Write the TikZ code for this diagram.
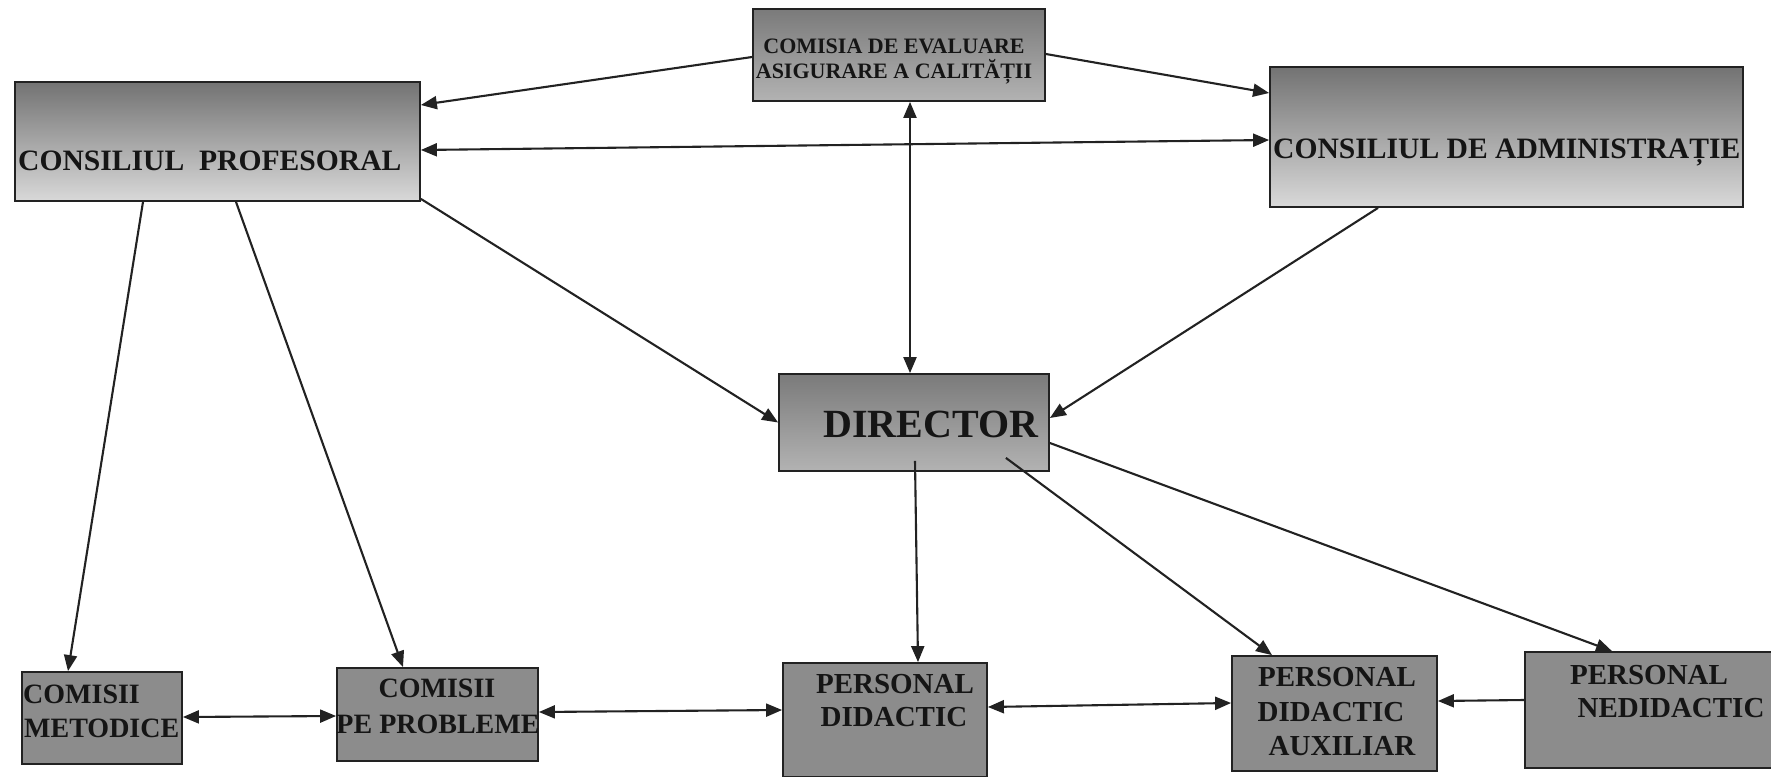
\documentclass[tikz,border=0pt]{standalone}
\usepackage{fontspec}
\setmainfont{Liberation Serif}
\usetikzlibrary{arrows.meta}
\definecolor{txt}{HTML}{151515}
\definecolor{edge}{HTML}{222222}
\definecolor{lowfill}{HTML}{8C8C8C}
\begin{document}
\begin{tikzpicture}[x=1pt,y=-1pt,
  box/.style={draw=edge, line width=1.8pt, rectangle, inner sep=0pt},
  bigbox/.style={box, top color=black!55, bottom color=black!15},
  midbox/.style={box, top color=black!52, bottom color=black!30},
  lowbox/.style={box, fill=lowfill},
  lbl/.style={text=txt, inner sep=0pt, font=\bfseries\fontsize{29}{34}\selectfont},
  toplbl/.style={lbl, font=\bfseries\fontsize{29.6}{34}\selectfont},
  smalllbl/.style={lbl, font=\bfseries\fontsize{22}{25}\selectfont},
  conn/.style={line width=2.1pt, draw=edge, -{Triangle[length=16pt,width=13pt]}},
  conn2/.style={line width=2.1pt, draw=edge, {Triangle[length=16pt,width=13pt]}-{Triangle[length=16pt,width=13pt]}},
]
\useasboundingbox (0,0) rectangle (1771,776);
\fill[white] (0,0) rectangle (1771,776);

% boxes
\node[midbox, minimum width=292pt, minimum height=92pt] (com) at (899,55) {};
\node[bigbox, minimum width=405pt, minimum height=119pt] (cp) at (217.5,141.5) {};
\node[bigbox, minimum width=473pt, minimum height=140pt] (ca) at (1506.5,137) {};
\node[midbox, minimum width=270pt, minimum height=97pt] (dir) at (914,422.5) {};
\node[lowbox, minimum width=160pt, minimum height=92pt] (cm) at (102,718) {};
\node[lowbox, minimum width=201pt, minimum height=93pt] (cpp) at (437.5,714.5) {};
\node[lowbox, minimum width=204pt, minimum height=114pt] (pd) at (885,720) {};
\node[lowbox, minimum width=205pt, minimum height=115pt] (pda) at (1334.5,713.5) {};
\node[lowbox, minimum width=250pt, minimum height=116pt] (pn) at (1650,710) {};

% labels
\node[smalllbl, anchor=base] (comA) at (894,53) {COMISIA DE EVALUARE};
\node[smalllbl, anchor=base] (comB) at (894,78) {ASIGURARE A CALITĂȚII};
\node[toplbl, anchor=base west] (cpT) at (18,170) {CONSILIUL\ \ PROFESORAL};
\node[toplbl, anchor=base west] (caT) at (1273,158) {CONSILIUL DE ADMINISTRAȚIE};
\node[lbl, font=\bfseries\fontsize{40}{44}\selectfont, anchor=base west] (dirT) at (823,437) {DIRECTOR};
\node[lbl, font=\bfseries\fontsize{28}{34}\selectfont, anchor=base west] (cmA) at (23,703) {COMISII};
\node[lbl, font=\bfseries\fontsize{28}{34}\selectfont, anchor=base west] (cmB) at (24,737) {METODICE};
\node[lbl, font=\bfseries\fontsize{28}{34}\selectfont, anchor=base] (cppA) at (437,697) {COMISII};
\node[lbl, font=\bfseries\fontsize{28}{34}\selectfont, anchor=base] (cppB) at (438,733) {PE PROBLEME};
\node[lbl, anchor=base] (pdA) at (895,693) {PERSONAL};
\node[lbl, anchor=base] (pdB) at (894,726) {DIDACTIC};
\node[lbl, anchor=base] (pdaA) at (1337,686) {PERSONAL};
\node[lbl, anchor=base] (pdaB) at (1331,721) {DIDACTIC};
\node[lbl, anchor=base] (pdaC) at (1342,755) {AUXILIAR};
\node[lbl, anchor=base] (pnA) at (1649,684) {PERSONAL};
\node[lbl, anchor=base] (pnB) at (1671,717) {NEDIDACTIC};

% connectors
\draw[conn] ([yshift=-2pt]com.west) -- ([yshift=36.5pt]cp.east);
\draw[conn] ([yshift=1pt]com.east) -- ([yshift=44pt]ca.west);
\draw[conn2] ([yshift=-8.5pt]cp.east) -- ([yshift=-3pt]ca.west);
\draw[conn2] ([xshift=11pt]com.south) -- ([xshift=-4pt]dir.north);
\draw[conn] ([yshift=3pt]cp.south east) -- (dir.west);
\draw[conn] ([xshift=-128.5pt]ca.south) -- ([yshift=4.5pt]dir.east);
\draw[conn] ([xshift=-74.5pt]cp.south) -- ([xshift=-34pt]cm.north);
\draw[conn] ([xshift=18.5pt]cp.south) -- ([xshift=-34.5pt]cpp.north);
\draw[conn] ([xshift=1pt,yshift=11pt]dir.south) -- ([xshift=33pt]pd.north);
\draw[conn] ([xshift=-44pt,yshift=14pt]dir.south east) -- ([xshift=-62.5pt]pda.north);
\draw[conn] ([yshift=-20.5pt]dir.east) -- ([xshift=-38pt]pn.north);
\draw[conn2] ([yshift=1pt]cm.east) -- ([yshift=-1.5pt]cpp.west);
\draw[conn2] ([yshift=2.5pt]cpp.east) -- ([yshift=10pt]pd.west);
\draw[conn2] ([yshift=13pt]pd.east) -- ([yshift=10.5pt]pda.west);
\draw[conn] ([yshift=10pt]pn.west) -- ([yshift=12.5pt]pda.east);
\end{tikzpicture}
\end{document}
